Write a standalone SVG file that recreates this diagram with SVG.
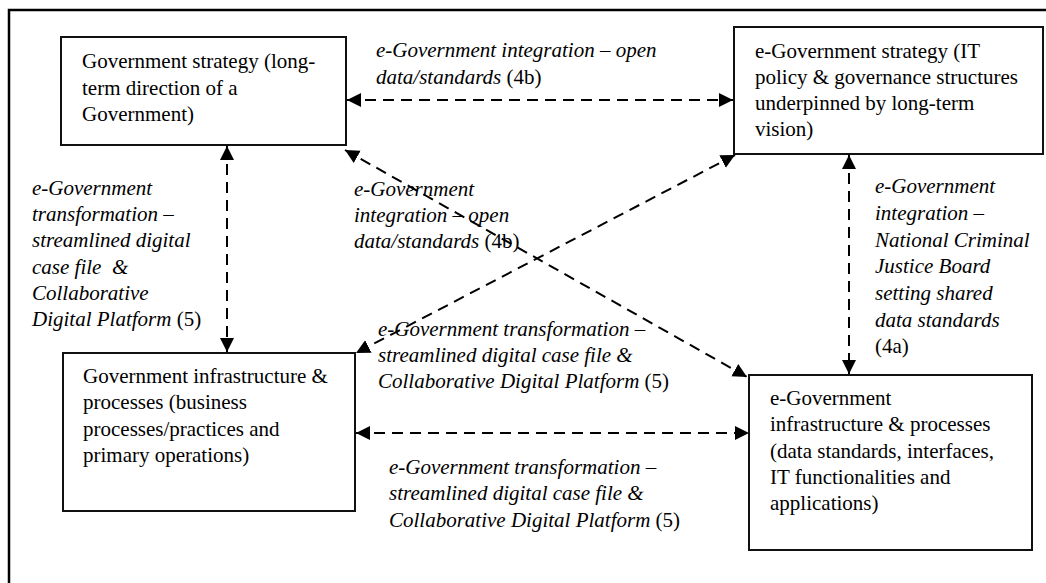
<svg xmlns="http://www.w3.org/2000/svg" width="1046" height="583" viewBox="0 0 1046 583">
<style>
text{font-family:"Liberation Serif","Times New Roman",serif;font-size:21px;fill:#000;white-space:pre}
.lbl{font-style:italic}
.n{font-style:normal}
.box{fill:#fff;stroke:#111;stroke-width:2}
.conn{fill:none;stroke:#000;stroke-width:2;stroke-dasharray:11 7;marker-start:url(#ah);marker-end:url(#ah)}
</style>
<defs>
<marker id="ah" markerUnits="userSpaceOnUse" markerWidth="15" markerHeight="15" refX="14" refY="7" orient="auto-start-reverse">
<path d="M0,0 L14,7 L0,14 z" fill="#000"/>
</marker>
</defs>
<rect width="1046" height="583" fill="#fff"/>
<path d="M9,583 V10 H1046" fill="none" stroke="#000" stroke-width="2.5"/>

<g id="connectors">
<line class="conn" x1="347" y1="100" x2="733" y2="100"/>
<line class="conn" x1="227" y1="146" x2="227" y2="352"/>
<line class="conn" x1="849" y1="155" x2="849" y2="374"/>
<line class="conn" x1="356" y1="433" x2="749" y2="433"/>
<line class="conn" x1="345" y1="150" x2="747" y2="377"/>
<line class="conn" x1="735" y1="155" x2="356" y2="353"/>
</g>

<g id="labels">
<text class="lbl" x="376" y="57">e-Government integration – open</text>
<text class="lbl" x="376" y="84">data/standards <tspan class="n">(4b)</tspan></text>

<text class="lbl" x="32" y="195">e-Government</text>
<text class="lbl" x="32" y="221">transformation –</text>
<text class="lbl" x="32" y="247">streamlined digital</text>
<text class="lbl" x="32" y="274">case file  &amp;</text>
<text class="lbl" x="32" y="300">Collaborative</text>
<text class="lbl" x="32" y="326">Digital Platform <tspan class="n">(5)</tspan></text>

<text class="lbl" x="354" y="196">e-Government</text>
<text class="lbl" x="354" y="222">integration – open</text>
<text class="lbl" x="354" y="248">data/standards <tspan class="n">(4b)</tspan></text>

<text class="lbl" x="378" y="336">e-Government transformation –</text>
<text class="lbl" x="378" y="362">streamlined digital case file &amp;</text>
<text class="lbl" x="378" y="388">Collaborative Digital Platform <tspan class="n">(5)</tspan></text>

<text class="lbl" x="389" y="474">e-Government transformation –</text>
<text class="lbl" x="389" y="500">streamlined digital case file &amp;</text>
<text class="lbl" x="389" y="527">Collaborative Digital Platform <tspan class="n">(5)</tspan></text>

<text class="lbl" x="875" y="193">e-Government</text>
<text class="lbl" x="875" y="220">integration –</text>
<text class="lbl" x="875" y="247">National Criminal</text>
<text class="lbl" x="875" y="273">Justice Board</text>
<text class="lbl" x="875" y="300">setting shared</text>
<text class="lbl" x="875" y="327">data standards</text>
<text class="n" x="875" y="353">(4a)</text>
</g>

<g id="gov-strategy">
<rect class="box" x="61" y="37" width="285" height="108"/>
<text x="82" y="68">Government strategy (long-</text>
<text x="82" y="94.5">term direction of a</text>
<text x="82" y="121">Government)</text>
</g>

<g id="egov-strategy">
<rect class="box" x="734" y="27" width="309" height="127"/>
<text x="755" y="58">e-Government strategy (IT</text>
<text x="755" y="84">policy &amp; governance structures</text>
<text x="755" y="110">underpinned by long-term</text>
<text x="755" y="136">vision)</text>
</g>

<g id="gov-infrastructure">
<rect class="box" x="63" y="353" width="292" height="158"/>
<text x="83" y="383">Government infrastructure &amp;</text>
<text x="83" y="409">processes (business</text>
<text x="83" y="436">processes/practices and</text>
<text x="83" y="462">primary operations)</text>
</g>

<g id="egov-infrastructure">
<rect class="box" x="749" y="375" width="283" height="175"/>
<text x="770" y="405">e-Government</text>
<text x="770" y="431">infrastructure &amp; processes</text>
<text x="770" y="458">(data standards, interfaces,</text>
<text x="770" y="484">IT functionalities and</text>
<text x="770" y="510">applications)</text>
</g>
</svg>
